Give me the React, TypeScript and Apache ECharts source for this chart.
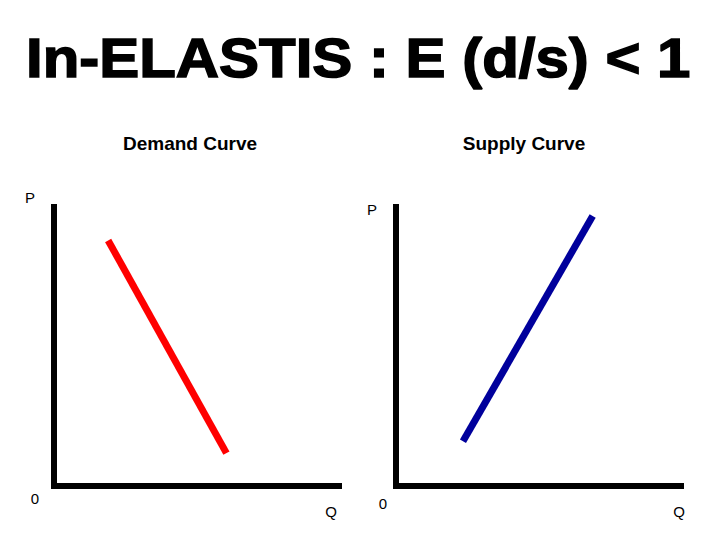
import React, { useEffect, useRef } from "react";
import * as echarts from "echarts";

const titleText = "In-ELASTIS : E (d/s) < 1";
const panelTitles = ["Demand Curve", "Supply Curve"];
const yAxisNames = ["P", "P"];
const xAxisNames = ["Q", "Q"];
const originLabels = ["0", "0"];

// Demand (red) line: [Q, P] on a 0–10 scale
const demandPoints: [number, number][] = [
  [1.9, 8.8],
  [6.05, 1.18],
];
// Supply (blue) line
const supplyPoints: [number, number][] = [
  [2.35, 1.6],
  [6.9, 9.68],
];

const axisMin = 0;
const axisMax = 10;

export default function App() {
  const ref = useRef<HTMLDivElement>(null);

  useEffect(() => {
    document.body.style.margin = "0";
    if (!ref.current) return;
    const chart = echarts.init(ref.current, null, { renderer: "svg" });
    const font = "'Liberation Sans', Arial, sans-serif";
    const axisLineStyle = { color: "#000", width: 6, cap: "square" as const };

    const mkX = (gridIndex: number) => ({
      type: "value" as const,
      gridIndex,
      min: axisMin,
      max: axisMax,
      axisLine: { show: true, onZero: false, lineStyle: axisLineStyle },
      axisTick: { show: false },
      axisLabel: { show: false },
      splitLine: { show: false },
    });
    const mkY = (gridIndex: number) => ({
      type: "value" as const,
      gridIndex,
      min: axisMin,
      max: axisMax,
      axisLine: { show: true, onZero: false, lineStyle: axisLineStyle },
      axisTick: { show: false },
      axisLabel: { show: false },
      splitLine: { show: false },
    });

    const labelStyle = (text: string) => ({
      text,
      font: `15px ${font}`,
      fill: "#000",
      align: "center",
      verticalAlign: "middle",
    });

    chart.setOption({
      animation: false,
      backgroundColor: "#fff",
      grid: [
        { left: 54, top: 207, width: 285, height: 279 },
        { left: 396, top: 207, width: 285, height: 279 },
      ],
      xAxis: [mkX(0), mkX(1)],
      yAxis: [mkY(0), mkY(1)],
      series: [
        {
          type: "line",
          xAxisIndex: 0,
          yAxisIndex: 0,
          data: demandPoints,
          showSymbol: false,
          lineStyle: { color: "#ff0000", width: 7, cap: "butt" },
        },
        {
          type: "line",
          xAxisIndex: 1,
          yAxisIndex: 1,
          data: supplyPoints,
          showSymbol: false,
          lineStyle: { color: "#00009c", width: 7, cap: "butt" },
        },
      ],
      graphic: [
        {
          type: "text",
          x: 26,
          y: 58,
          scaleX: 1.09,
          style: {
            text: titleText,
            font: `bold 55px ${font}`,
            fill: "#000",
            stroke: "#000",
            lineWidth: 1.5,
            align: "left",
            verticalAlign: "middle",
          },
        },
        {
          type: "text",
          x: 190,
          y: 143,
          style: {
            text: panelTitles[0],
            font: `bold 19px ${font}`,
            fill: "#000",
            align: "center",
            verticalAlign: "middle",
          },
        },
        {
          type: "text",
          x: 524,
          y: 143,
          style: {
            text: panelTitles[1],
            font: `bold 19px ${font}`,
            fill: "#000",
            align: "center",
            verticalAlign: "middle",
          },
        },
        { type: "text", x: 30, y: 197.5, style: labelStyle(yAxisNames[0]) },
        { type: "text", x: 372, y: 209, style: labelStyle(yAxisNames[1]) },
        { type: "text", x: 35, y: 498, style: labelStyle(originLabels[0]) },
        { type: "text", x: 383, y: 503, style: labelStyle(originLabels[1]) },
        { type: "text", x: 331, y: 511, style: labelStyle(xAxisNames[0]) },
        { type: "text", x: 679, y: 511, style: labelStyle(xAxisNames[1]) },
      ],
    });

    return () => chart.dispose();
  }, []);

  return <div ref={ref} style={{ width: 720, height: 540 }} />;
}
